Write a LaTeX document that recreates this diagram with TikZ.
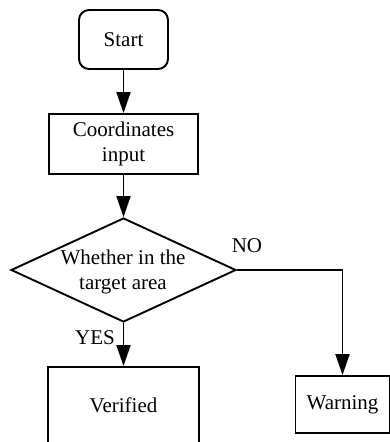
\documentclass[tikz,border=0pt]{standalone}
\usepackage{fontspec}
\setmainfont{Liberation Serif}
\usetikzlibrary{arrows.meta,shapes.geometric}
\begin{document}
\begin{tikzpicture}[x=1pt,y=-1pt,
  every node/.style={font=\fontsize{21}{25}\selectfont, inner sep=0pt, align=center},
  box/.style={draw, line width=1.9pt, rectangle},
  roundbox/.style={box, rounded corners=10pt},
  decision/.style={draw, line width=1.9pt, diamond, minimum width=225pt, minimum height=104pt},
  flow/.style={line width=1.9pt, -{Triangle[length=21pt,width=14pt]}}]
  \useasboundingbox (0,0) rectangle (390,442);
  \clip (0,0) rectangle (390,442);
  \fill[white] (0,0) rectangle (390,442);

  % process steps
  \node[roundbox, minimum width=89pt, minimum height=59pt] (start) at (123.5,39.5) {Start};
  \node[box, minimum width=149pt, minimum height=60pt] (coord) at (123.5,144) {Coordinates\\input};
  \node[decision] (check) at (123.5,270) {};
  \node (checktext) at (123,272) {Whether in the\\target area};
  \node[box, minimum width=151pt, minimum height=120pt] (verified) at (123.5,427) {};
  \node (verifiedtext) at (123.5,405) {Verified};
  \node[box, minimum width=94pt, minimum height=57pt] (warning) at (342.5,404.5) {Warning};

  % branch labels
  \node (no) at (247,246) {NO};
  \node (yes) at (95,338) {YES};

  % connectors
  \draw[flow] (start.south) -- (coord.north);
  \draw[flow] (coord.south) -- (check.north);
  \draw[flow] (check.south) -- (check.south |- verified.north);
  \draw[flow] (check.east) -| (warning.north);
\end{tikzpicture}
\end{document}
